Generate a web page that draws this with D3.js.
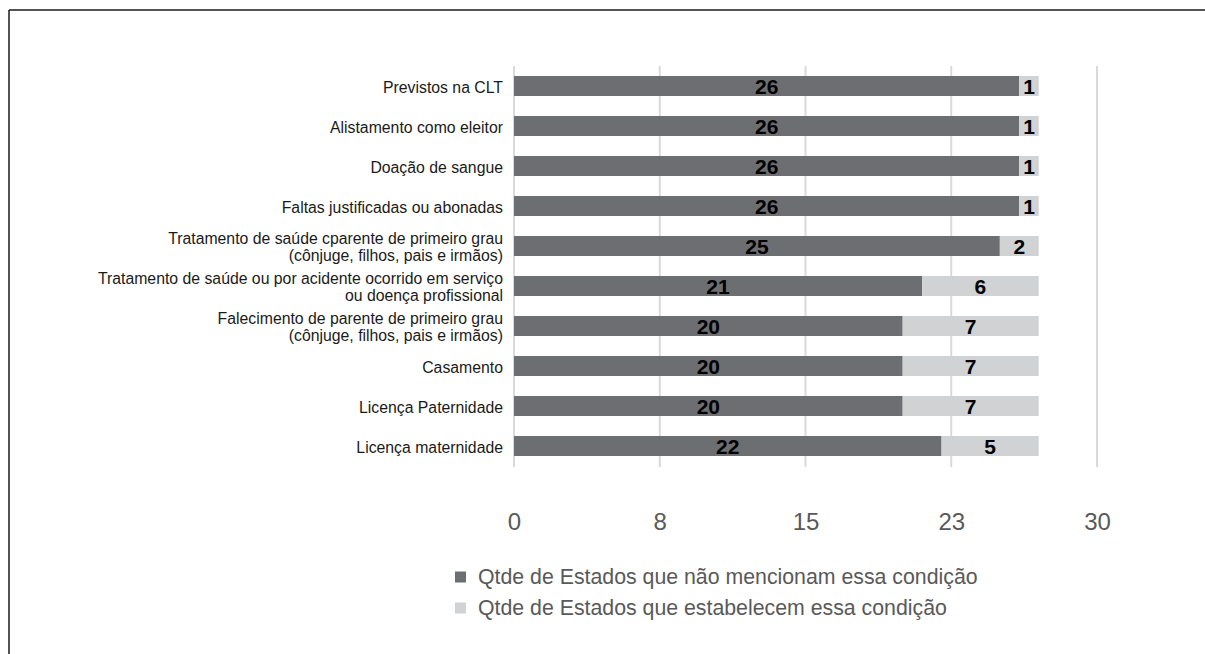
<!DOCTYPE html>
<html><head><meta charset="utf-8">
<script src="https://cdn.jsdelivr.net/npm/d3@7"></script>
<style>body{margin:0;background:#fff}svg{display:block}</style>
</head><body>
<svg id="c" width="1205" height="654"></svg>
<script>
const categories = [
  ["Previstos na CLT"],
  ["Alistamento como eleitor"],
  ["Doação de sangue"],
  ["Faltas justificadas ou abonadas"],
  ["Tratamento de saúde cparente de primeiro grau","(cônjuge, filhos, pais e irmãos)"],
  ["Tratamento de saúde ou por acidente ocorrido em serviço","ou doença profissional"],
  ["Falecimento de parente de primeiro grau","(cônjuge, filhos, pais e irmãos)"],
  ["Casamento"],
  ["Licença Paternidade"],
  ["Licença maternidade"]
];
const naoMencionam = [26,26,26,26,25,21,20,20,20,22];
const estabelecem = [1,1,1,1,2,6,7,7,7,5];
const seriesNames = ["Qtde de Estados que não mencionam essa condição","Qtde de Estados que estabelecem essa condição"];
const tickValues = [0,7.5,15,22.5,30];

const colors = ["#6d6e71","#d1d2d4"];
const svg = d3.select("#c");
const font = "'Liberation Sans', Arial, sans-serif";
const narrow = "'Liberation Sans Narrow', 'Arial Narrow', 'Liberation Sans', sans-serif";

// frame
svg.append("line").attr("x1",9).attr("x2",1205).attr("y1",10).attr("y2",10).attr("stroke","#1a1a1a").attr("stroke-width",1.5);
svg.append("line").attr("x1",9).attr("x2",9).attr("y1",10).attr("y2",654).attr("stroke","#1a1a1a").attr("stroke-width",1.5);

const x = d3.scaleLinear().domain([0,30]).range([514,1097]);
const y = d3.scaleBand().domain(d3.range(categories.length)).range([66,466]).paddingInner(0.5).paddingOuter(0.25);

// gridlines
svg.append("g").selectAll("line").data(tickValues).join("line")
  .attr("x1",d=>x(d)).attr("x2",d=>x(d)).attr("y1",66).attr("y2",467)
  .attr("stroke","#d9d9d9").attr("stroke-width",2);

// bars
const rows = svg.append("g").selectAll("g").data(categories.map((c,i)=>i)).join("g");
rows.append("rect").attr("x",x(0)).attr("y",i=>y(i)).attr("height",y.bandwidth())
  .attr("width",i=>x(naoMencionam[i])-x(0)).attr("fill",colors[0]);
rows.append("rect").attr("x",i=>x(naoMencionam[i])).attr("y",i=>y(i)).attr("height",y.bandwidth())
  .attr("width",i=>x(naoMencionam[i]+estabelecem[i])-x(naoMencionam[i])).attr("fill",colors[1]);

// value labels
rows.append("text").attr("x",i=>(x(0)+x(naoMencionam[i]))/2).attr("y",i=>y(i)+y.bandwidth()/2)
  .attr("dy","0.36em").attr("text-anchor","middle").attr("font-family",font).attr("font-weight","bold")
  .attr("font-size",21).attr("fill","#000").text(i=>naoMencionam[i]);
rows.append("text").attr("x",i=>(x(naoMencionam[i])+x(naoMencionam[i]+estabelecem[i]))/2).attr("y",i=>y(i)+y.bandwidth()/2)
  .attr("dy","0.36em").attr("text-anchor","middle").attr("font-family",font).attr("font-weight","bold")
  .attr("font-size",21).attr("fill","#000").text(i=>estabelecem[i]);

// category labels
rows.each(function(i){
  const lines = categories[i];
  const g = d3.select(this);
  const cy = y(i)+y.bandwidth()/2;
  const lh = 17;
  const t = g.append("text").attr("text-anchor","end").attr("font-family",font).attr("font-size",15.8).attr("fill","#1a1a1a");
  lines.forEach((l,k)=>{
    t.append("tspan").attr("x",503).attr("y",cy + 1 + (k-(lines.length-1)/2)*lh).attr("dy","0.35em").text(l);
  });
});

// axis
const axis = d3.axisBottom(x).tickValues(tickValues).tickSize(0).tickFormat(d=>Math.round(d));
const ag = svg.append("g").attr("transform","translate(0,510)").call(axis);
ag.select(".domain").remove();
ag.selectAll("text").attr("font-family",narrow).attr("font-size",24).attr("fill","#595959");

// legend
const lg = svg.append("g").selectAll("g").data(seriesNames).join("g")
  .attr("transform",(d,i)=>`translate(455,${577+i*31})`);
lg.append("rect").attr("x",0).attr("y",-5.5).attr("width",11).attr("height",11).attr("fill",(d,i)=>colors[i]);
lg.append("text").attr("x",23).attr("dy","0.35em").attr("font-family",font).attr("font-size",21.3).attr("fill","#595959").text(d=>d);
</script>
</body></html>
